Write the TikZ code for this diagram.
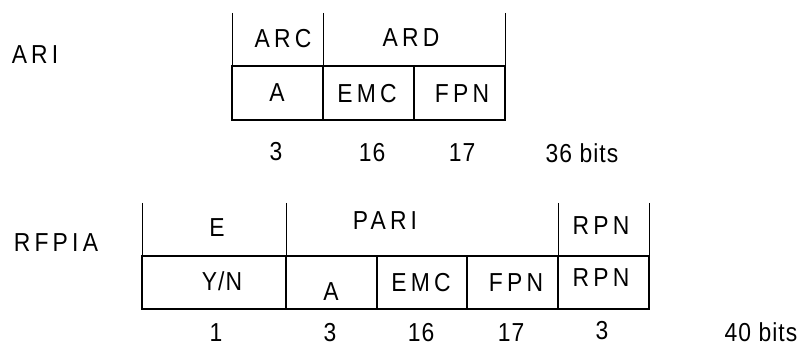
\documentclass[tikz,border=0pt]{standalone}
\usepackage{fontspec}
\setmainfont{Liberation Sans}[FakeStretch=0.88, LetterSpace=4]
\newfontfamily\spacedfont{Liberation Sans}[FakeStretch=0.88, LetterSpace=16]
\usepackage{tikz}

% one box of a bit field: name, left, right, top, bottom
\newcommand{\bitcell}[5]{%
    \node[cellbox, minimum width={#3-#2}, minimum height={#5-#4}] (#1) at (#2, #4) {};%
}

\tikzset{
    cellbox/.style={draw, line width=2.2pt, inner sep=0pt, outer sep=0pt, anchor=north west},
    hdrline/.style={line width=0.8pt},
    fieldtext/.style={font=\spacedfont\fontsize{26}{30}\selectfont, inner sep=0pt, text height=19.4pt, text depth=0.8pt},
    bitstext/.style={font=\fontsize{26}{30}\selectfont, inner sep=0pt, text height=19.4pt, text depth=0.8pt}
}

\begin{document}
\begin{tikzpicture}[x=1pt, y=-1pt]

        \useasboundingbox (0, 0) rectangle (807, 347);

        % --- ARI: 36 bits ---
        \node[fieldtext] (ari) at (35, 54) {ARI};

        \bitcell{ariA}{232}{323}{66}{120}
        \bitcell{ariEmc}{323}{414}{66}{120}
        \bitcell{ariFpn}{414}{505}{66}{120}

        \coordinate (ariArcTop) at (232, 13);
        \coordinate (ariArdTop) at (323, 13);
        \coordinate (ariEndTop) at (505, 13);
        \draw[hdrline] (ariArcTop) -- (ariA.north west);
        \draw[hdrline] (ariArdTop) -- (ariEmc.north west);
        \draw[hdrline] (ariEndTop) -- (ariFpn.north east);

        \node[fieldtext] (ariArc) at (283, 38) {ARC};
        \node[fieldtext] (ariArd) at (411, 37) {ARD};
        \node[fieldtext] (ariAText) at (277, 92) {A};
        \node[fieldtext] (ariEmcText) at (367, 93) {EMC};
        \node[fieldtext] (ariFpnText) at (462, 93) {FPN};

        \node[bitstext] (ariBitsA) at (276, 151) {3};
        \node[bitstext] (ariBitsEmc) at (372, 152) {16};
        \node[bitstext] (ariBitsFpn) at (462, 152) {17};
        \node[bitstext] (ariBits) at (582, 153) {36 bits};

        % --- RFPI A: 40 bits ---
        \node[fieldtext] (rfpi) at (56, 242) {RFPI\,A};

        \bitcell{rfpiE}{142}{286}{256}{309}
        \bitcell{rfpiA}{286}{377}{256}{309}
        \bitcell{rfpiEmc}{377}{467}{256}{309}
        \bitcell{rfpiFpn}{467}{558}{256}{309}
        \bitcell{rfpiRpn}{558}{649}{256}{309}

        \coordinate (rfpiETop) at (142, 203);
        \coordinate (rfpiPariTop) at (286, 203);
        \coordinate (rfpiRpnTop) at (558, 203);
        \coordinate (rfpiEndTop) at (649, 203);
        \draw[hdrline] (rfpiETop) -- (rfpiE.north west);
        \draw[hdrline] (rfpiPariTop) -- (rfpiA.north west);
        \draw[hdrline] (rfpiRpnTop) -- (rfpiRpn.north west);
        \draw[hdrline] (rfpiEndTop) -- (rfpiRpn.north east);

        \node[fieldtext] (rfpiEHead) at (217, 227) {E};
        \node[fieldtext] (rfpiPari) at (385, 220) {PARI};
        \node[fieldtext] (rfpiRpnHead) at (601, 225) {RPN};
        \node[bitstext] (rfpiEText) at (222, 281) {Y/N};
        \node[fieldtext] (rfpiAText) at (331, 291) {A};
        \node[fieldtext] (rfpiEmcText) at (421, 282) {EMC};
        \node[fieldtext] (rfpiFpnText) at (516, 282) {FPN};
        \node[fieldtext] (rfpiRpnText) at (601, 277) {RPN};

        \node[bitstext] (rfpiBitsE) at (216, 332) {1};
        \node[bitstext] (rfpiBitsA) at (330, 332) {3};
        \node[bitstext] (rfpiBitsEmc) at (421, 332) {16};
        \node[bitstext] (rfpiBitsFpn) at (511, 332) {17};
        \node[bitstext] (rfpiBitsRpn) at (602, 330) {3};
        \node[bitstext] (rfpiBits) at (761, 332) {40 bits};

    \end{tikzpicture}
\end{document}
